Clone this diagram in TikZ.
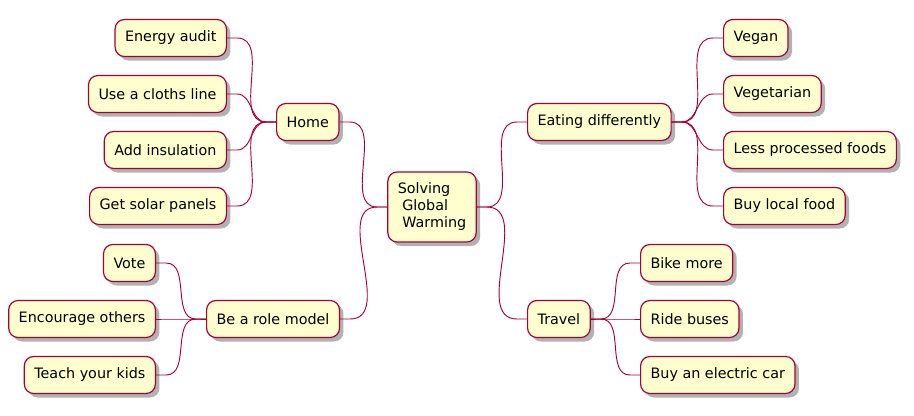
\documentclass[tikz,border=0pt]{standalone}
\usepackage{fontspec}
\setmainfont{DejaVu Sans}
\usetikzlibrary{shadows}
\definecolor{mmfill}{HTML}{FEFECE}
\definecolor{mmline}{HTML}{A80036}
\tikzset{
    BX/.style ={rectangle, rounded corners=7pt, draw=mmline, line width=0.9pt, fill=mmfill,
        minimum height=27.75pt, inner xsep=7.5pt, font=\fontsize{10.75}{12.75}\selectfont,
        drop shadow={shadow xshift=3pt, shadow yshift=-3pt, opacity=0.3, fill=black}},
    BL/.style ={BX, anchor=east},
    BR/.style ={BX, anchor=west},
    LN/.style ={draw=mmline, line width=0.7pt}}

\begin{document}
\begin{tikzpicture}[x=0.75pt, y=-0.75pt]
    \useasboundingbox (0,0) rectangle (914,415);
        \node[BX, align=left, minimum width=66pt, minimum height=52.5pt] (root) at(432,207){Solving\\\ Global\\\ Warming};
        \node[BR] (home) at(276,122){Home};
        \node[BL] (audit) at(227,38){Energy audit};
        \node[BL] (cloth) at(227,94){Use a cloths line};
        \node[BL] (insul) at(227,150){Add insulation};
        \node[BL] (solar) at(227,206){Get solar panels};
        \node[BR] (role) at(206,319){Be a role model};
        \node[BL] (vote) at(156,263){Vote};
        \node[BL] (encou) at(156,319){Encourage others};
        \node[BL] (kids) at(156,375){Teach your kids};
        \node[BR] (eat) at(527,122){Eating differently};
        \node[BR] (vegan) at(723,38){Vegan};
        \node[BR] (veget) at(723,94){Vegetarian};
        \node[BR] (procs) at(723,150){Less processed foods};
        \node[BR] (local) at(723,206){Buy local food};
        \node[BR] (trav) at(527,319){Travel};
        \node[BR] (bike) at(640,263){Bike more};
        \node[BR] (bus) at(640,319){Ride buses};
        \node[BR] (ecar) at(640,375){Buy an electric car};
        % right side
        \draw[LN] (root.east) -- ++(7.5pt,0) to[out=0,in=180] ([xshift=-7.5pt]eat.west) -- (eat.west);
        \draw[LN] (root.east) -- ++(7.5pt,0) to[out=0,in=180] ([xshift=-7.5pt]trav.west) -- (trav.west);
        \draw[LN] (eat.east) -- ++(7.5pt,0) to[out=0,in=180] ([xshift=-7.5pt]vegan.west) -- (vegan.west);
        \draw[LN] (eat.east) -- ++(7.5pt,0) to[out=0,in=180] ([xshift=-7.5pt]veget.west) -- (veget.west);
        \draw[LN] (eat.east) -- ++(7.5pt,0) to[out=0,in=180] ([xshift=-7.5pt]procs.west) -- (procs.west);
        \draw[LN] (eat.east) -- ++(7.5pt,0) to[out=0,in=180] ([xshift=-7.5pt]local.west) -- (local.west);
        \draw[LN] (trav.east) -- ++(7.5pt,0) to[out=0,in=180] ([xshift=-7.5pt]bike.west) -- (bike.west);
        \draw[LN] (trav.east) -- ++(7.5pt,0) to[out=0,in=180] ([xshift=-7.5pt]bus.west) -- (bus.west);
        \draw[LN] (trav.east) -- ++(7.5pt,0) to[out=0,in=180] ([xshift=-7.5pt]ecar.west) -- (ecar.west);
        % left side
        \draw[LN] (root.west) -- ++(-7.5pt,0) to[out=180,in=0] ([xshift=7.5pt]home.east) -- (home.east);
        \draw[LN] (root.west) -- ++(-7.5pt,0) to[out=180,in=0] ([xshift=7.5pt]role.east) -- (role.east);
        \draw[LN] (home.west) -- ++(-7.5pt,0) to[out=180,in=0] ([xshift=7.5pt]audit.east) -- (audit.east);
        \draw[LN] (home.west) -- ++(-7.5pt,0) to[out=180,in=0] ([xshift=7.5pt]cloth.east) -- (cloth.east);
        \draw[LN] (home.west) -- ++(-7.5pt,0) to[out=180,in=0] ([xshift=7.5pt]insul.east) -- (insul.east);
        \draw[LN] (home.west) -- ++(-7.5pt,0) to[out=180,in=0] ([xshift=7.5pt]solar.east) -- (solar.east);
        \draw[LN] (role.west) -- ++(-7.5pt,0) to[out=180,in=0] ([xshift=7.5pt]vote.east) -- (vote.east);
        \draw[LN] (role.west) -- ++(-7.5pt,0) to[out=180,in=0] ([xshift=7.5pt]encou.east) -- (encou.east);
        \draw[LN] (role.west) -- ++(-7.5pt,0) to[out=180,in=0] ([xshift=7.5pt]kids.east) -- (kids.east);
    \end{tikzpicture}
\end{document}
